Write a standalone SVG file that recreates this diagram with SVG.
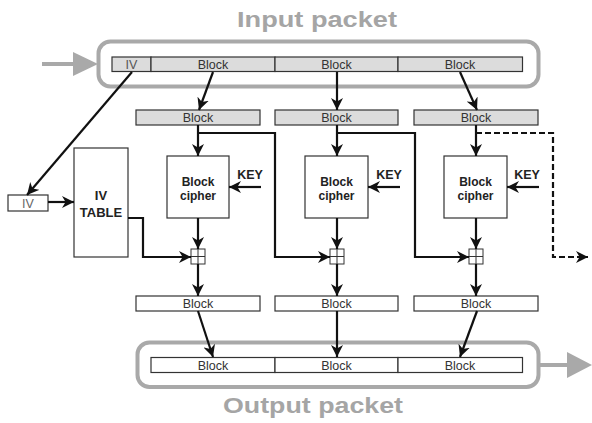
<svg xmlns="http://www.w3.org/2000/svg" width="592" height="423" viewBox="0 0 592 423">
<defs>
<marker id="ah" viewBox="0 0 10 10" markerUnits="userSpaceOnUse" markerWidth="12" markerHeight="12" refX="10" refY="5" orient="auto">
<path d="M0,0 L10,5 L0,10 L3,5 z" fill="#111"/>
</marker>
</defs>
<style>
.pk{fill:none;stroke:#a9a9a9;stroke-width:4}
.ga{stroke:#a9a9a9;stroke-width:4;fill:none}
.gh{fill:#a9a9a9}
.title{font-family:"Liberation Sans",Arial,sans-serif;font-weight:bold;font-size:22px;fill:#a5a5a5}
.bg{fill:#dcdcdc;stroke:#333;stroke-width:1.2}
.bw{fill:#fff;stroke:#333;stroke-width:1.2}
.bt{font-family:"Liberation Sans",Arial,sans-serif;font-size:12.5px;fill:#333;text-anchor:middle}
.bb{font-family:"Liberation Sans",Arial,sans-serif;font-size:12px;font-weight:bold;fill:#222;text-anchor:middle}
.box{fill:#fff;stroke:#333;stroke-width:1.2}
.c{fill:none;stroke:#111;stroke-width:2.2}
.ca{fill:none;stroke:#111;stroke-width:2.2;marker-end:url(#ah)}
.cd{fill:none;stroke:#111;stroke-width:2.2;stroke-dasharray:6,3;marker-end:url(#ah)}
.x{fill:#fff;stroke:#333;stroke-width:1}
</style>

<g id="input-packet">
<text class="title" x="237" y="27" textLength="160" lengthAdjust="spacingAndGlyphs">Input packet</text>
<rect class="pk" x="98.5" y="41.5" width="440" height="45" rx="12"/>
<line class="ga" x1="42" y1="64" x2="76" y2="64"/>
<path class="gh" d="M73,52 L98,64 L73,76 z"/>
<rect class="bg" x="112" y="57" width="39" height="14.5"/>
<text class="bt" x="131.5" y="68.5" style="fill:#555">IV</text>
<rect class="bg" x="151" y="57" width="124" height="14.5"/>
<text class="bt" x="213" y="68.5">Block</text>
<rect class="bg" x="275" y="57" width="123" height="14.5"/>
<text class="bt" x="336.5" y="68.5">Block</text>
<rect class="bg" x="398" y="57" width="124.5" height="14.5"/>
<text class="bt" x="460" y="68.5">Block</text>
</g>

<g id="output-packet">
<rect class="pk" x="137.5" y="342.5" width="401" height="44.5" rx="12"/>
<line class="ga" x1="540" y1="365" x2="570" y2="365"/>
<path class="gh" d="M567,352 L592,365 L567,378 z"/>
<rect class="bw" x="151" y="357.5" width="124" height="15"/>
<text class="bt" x="213" y="369.5">Block</text>
<rect class="bw" x="275" y="357.5" width="123" height="15"/>
<text class="bt" x="336.5" y="369.5">Block</text>
<rect class="bw" x="398" y="357.5" width="124.5" height="15"/>
<text class="bt" x="460" y="369.5">Block</text>
<text class="title" x="223" y="413" textLength="180" lengthAdjust="spacingAndGlyphs">Output packet</text>
</g>

<g id="iv">
<rect class="bw" x="8" y="195" width="40" height="16"/>
<text class="bt" x="28" y="207.5" style="fill:#666">IV</text>
</g>
<g id="iv-table">
<rect class="box" x="74" y="148" width="54" height="109"/>
<text class="bb" x="101" y="199.5" style="font-size:13px">IV</text>
<text class="bb" x="101" y="216.5" style="font-size:13px">TABLE</text>
</g>

<g id="col1">
<rect class="bg" x="136" y="110" width="124" height="15"/>
<text class="bt" x="198" y="122">Block</text>
<rect class="box" x="167" y="156" width="62" height="62"/>
<text class="bb" x="198" y="186">Block</text>
<text class="bb" x="198" y="200">cipher</text>
<text class="bb" x="250" y="178.5" style="font-size:12.5px">KEY</text>
<rect class="x" x="191" y="249" width="14" height="15"/>
<path d="M198,249 V264 M191,256.5 H205" stroke="#333" stroke-width="1"/>
<rect class="bw" x="136" y="296" width="124" height="15"/>
<text class="bt" x="198" y="308">Block</text>
</g>
<g id="col2">
<rect class="bg" x="275" y="110" width="123" height="15"/>
<text class="bt" x="336.5" y="122">Block</text>
<rect class="box" x="305" y="156" width="63" height="62"/>
<text class="bb" x="336.5" y="186">Block</text>
<text class="bb" x="336.5" y="200">cipher</text>
<text class="bb" x="389" y="178.5" style="font-size:12.5px">KEY</text>
<rect class="x" x="330" y="249" width="14" height="15"/>
<path d="M337,249 V264 M330,256.5 H344" stroke="#333" stroke-width="1"/>
<rect class="bw" x="275" y="296" width="123" height="15"/>
<text class="bt" x="336.5" y="308">Block</text>
</g>
<g id="col3">
<rect class="bg" x="414" y="110" width="124" height="15"/>
<text class="bt" x="476" y="122">Block</text>
<rect class="box" x="444" y="156" width="63" height="62"/>
<text class="bb" x="475.5" y="186">Block</text>
<text class="bb" x="475.5" y="200">cipher</text>
<text class="bb" x="527" y="178.5" style="font-size:12.5px">KEY</text>
<rect class="x" x="469" y="249" width="14" height="15"/>
<path d="M476,249 V264 M469,256.5 H483" stroke="#333" stroke-width="1"/>
<rect class="bw" x="414" y="296" width="124" height="15"/>
<text class="bt" x="476" y="308">Block</text>
</g>

<g id="connectors">
<line class="ca" x1="213" y1="72" x2="199" y2="110"/>
<line class="ca" x1="337" y1="72" x2="337" y2="110"/>
<line class="ca" x1="460" y1="72" x2="477" y2="110"/>
<line class="ca" x1="132" y1="72" x2="27" y2="195"/>
<line class="ca" x1="48" y1="202" x2="74" y2="202"/>
<polyline class="ca" points="128,218 143,218 143,257 191,257"/>
<line class="ca" x1="198" y1="125" x2="198" y2="156"/>
<line class="ca" x1="337" y1="125" x2="337" y2="156"/>
<line class="ca" x1="476" y1="125" x2="476" y2="156"/>
<polyline class="ca" points="198,133 275,133 275,257 330,257"/>
<polyline class="ca" points="337,133 415,133 415,257 469,257"/>
<polyline class="cd" points="476,133 553,133 553,257 588,257"/>
<line class="ca" x1="261" y1="187" x2="229" y2="187"/>
<line class="ca" x1="400" y1="187" x2="368" y2="187"/>
<line class="ca" x1="539" y1="187" x2="507" y2="187"/>
<line class="ca" x1="198" y1="218" x2="198" y2="249"/>
<line class="ca" x1="337" y1="218" x2="337" y2="249"/>
<line class="ca" x1="476" y1="218" x2="476" y2="249"/>
<line class="ca" x1="198" y1="264" x2="198" y2="296"/>
<line class="ca" x1="337" y1="264" x2="337" y2="296"/>
<line class="ca" x1="476" y1="264" x2="476" y2="296"/>
<line class="ca" x1="198" y1="311" x2="213" y2="357"/>
<line class="ca" x1="337" y1="311" x2="337" y2="357"/>
<line class="ca" x1="477" y1="311" x2="460" y2="357"/>
</g>
</svg>
